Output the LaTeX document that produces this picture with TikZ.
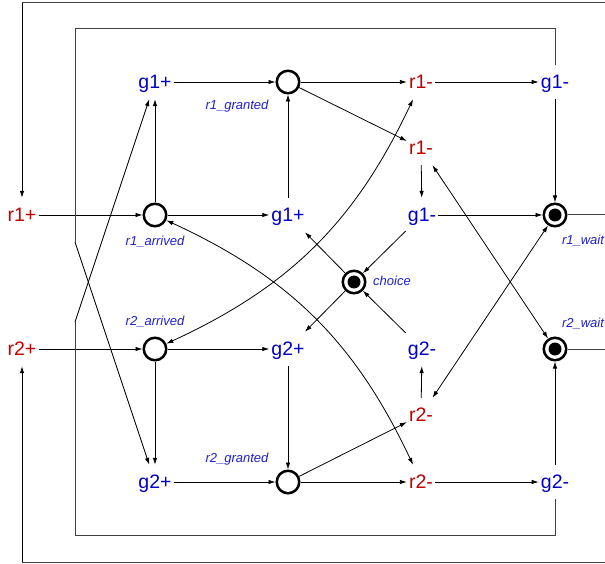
\documentclass[tikz,border=0pt]{standalone}
\usepackage{fontspec}
\setmainfont{Liberation Sans}
\usetikzlibrary{arrows.meta}
\definecolor{tred}{RGB}{192,0,0}
\definecolor{tblue}{RGB}{0,0,200}
\definecolor{lblue}{RGB}{30,30,210}
\tikzset{
  tr/.style={inner sep=2pt, minimum height=34pt, text height=16.2pt, text depth=2.3pt, font=\fontsize{19.5}{21}\selectfont},
  tredn/.style={tr, text=tred},
  tbluen/.style={tr, text=tblue},
  place/.style={circle, draw, line width=2.5pt, minimum size=22.5pt, inner sep=0pt},
  marked/.style={place, path picture={\fill (path picture bounding box.center) circle (6.5pt);}},
  lab/.style={text=lblue, font=\fontsize{13}{15}\selectfont\itshape, inner sep=0pt},
  arc/.style={-{Latex[length=7pt,width=4.5pt]}, line width=0.8pt},
  darc/.style={{Latex[length=7pt,width=4.5pt]}-{Latex[length=7pt,width=4.5pt]}, line width=0.8pt},
  box/.style={line width=1pt, draw=black!75},
}
\begin{document}
\begin{tikzpicture}[x=1pt,y=-1pt]
\useasboundingbox (0,0) rectangle (605,564);
% text nodes
\node[tbluen] (g1pa) at (155,82) {g1+};
\node[tredn]  (r1ma) at (421,82) {r1-};
\node[tbluen] (g1ma) at (555,82) {g1-};
\node[tredn]  (r1mb) at (421,148) {r1-};
\node[tredn]  (r1p)  at (22,215) {r1+};
\node[tbluen] (g1pb) at (288,215) {g1+};
\node[tbluen] (g1mb) at (422,215) {g1-};
\node[tredn]  (r2p)  at (22,349) {r2+};
\node[tbluen] (g2pb) at (288,349) {g2+};
\node[tbluen] (g2mb) at (422,349) {g2-};
\node[tredn]  (r2mb) at (421,415) {r2-};
\node[tbluen] (g2pa) at (155,482) {g2+};
\node[tredn]  (r2ma) at (421,482) {r2-};
\node[tbluen] (g2ma) at (555,482) {g2-};
% places
\node[place]  (rg1) at (288,82) {};
\node[place]  (ra1) at (155,215) {};
\node[marked] (rw1) at (555,215) {};
\node[marked] (ch)  at (354,282) {};
\node[place]  (ra2) at (155,349) {};
\node[marked] (rw2) at (555,349) {};
\node[place]  (rg2) at (288,482) {};
% labels
\node[lab] (l1) at (237,106) {r1\_granted};
\node[lab] (l2) at (155,242) {r1\_arrived};
\node[lab] (l3) at (155,322) {r2\_arrived};
\node[lab] (l4) at (237,459) {r2\_granted};
\node[lab] (l5) at (392,281) {choice};
\node[lab] (l6) at (583,241) {r1\_wait};
\node[lab] (l7) at (583,324) {r2\_wait};
% coordinates for frames
\coordinate (a1) at (555,29);
\coordinate (a2) at (75,29);
\coordinate (a3) at (75,242);
\coordinate (b1) at (555,535);
\coordinate (b2) at (75,535);
\coordinate (b3) at (75,322);
\coordinate (c1) at (612,215);
\coordinate (c2) at (612,3);
\coordinate (c3) at (22,3);
\coordinate (d1) at (612,349);
\coordinate (d2) at (612,562);
\coordinate (d3) at (22,562);
% arcs
\draw[arc] (g1pa) -- (rg1);
\draw[arc] (rg1) -- (r1ma);
\draw[arc] (r1ma) -- (g1ma);
\draw[arc] (rg1) -- (r1mb);
\draw[arc] (g1ma) -- (rw1);
\draw[arc] (r1mb) -- (g1mb);
\draw[darc] (r1mb) -- (rw2);
\draw[darc] (ra2) to[bend right=20] (r1ma);
\draw[darc] (ra1) to[bend left=20] (r2ma);
\draw[arc] (r1p) -- (ra1);
\draw[arc] (ra1) -- (g1pb);
\draw[arc] (ra1) -- (g1pa);
\draw[arc] (g1pb) -- (rg1);
\draw[arc] (g1mb) -- (rw1);
\draw[arc] (g1mb) -- (ch);
\draw[arc] (ch) -- (g1pb);
\draw[arc] (ch) -- (g2pb);
\draw[arc] (g2mb) -- (ch);
\draw[arc] (r2p) -- (ra2);
\draw[arc] (ra2) -- (g2pb);
\draw[arc] (ra2) -- (g2pa);
\draw[arc] (g2pb) -- (rg2);
\draw[arc] (g2pa) -- (rg2);
\draw[arc] (rg2) -- (r2ma);
\draw[arc] (rg2) -- (r2mb);
\draw[arc] (r2ma) -- (g2ma);
\draw[arc] (g2ma) -- (rw2);
\draw[arc] (r2mb) -- (g2mb);
\draw[darc] (r2mb) -- (rw1);
% frame arcs
\draw[box] (g1ma) -- (a1) -- (a2) -- (a3);
\draw[arc] (a3) -- (g2pa);
\draw[box] (g2ma) -- (b1) -- (b2) -- (b3);
\draw[arc] (b3) -- (g1pa);
\draw[box] (rw1) -- (c1) -- (c2) -- (c3);
\draw[arc] (c3) -- (r1p);
\draw[box] (rw2) -- (d1) -- (d2) -- (d3);
\draw[arc] (d3) -- (r2p);
\end{tikzpicture}
\end{document}
